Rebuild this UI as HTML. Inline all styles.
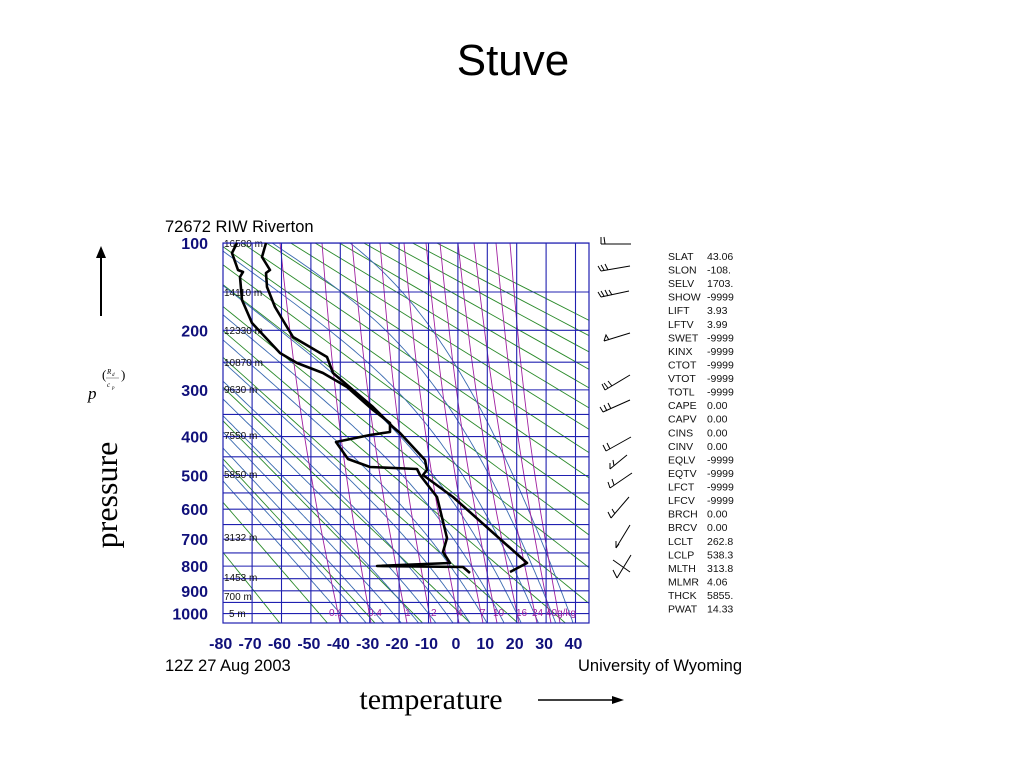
<!DOCTYPE html>
<html><head><meta charset="utf-8"><style>
html,body{margin:0;padding:0;background:#fff;}
body{width:1024px;height:768px;position:relative;overflow:hidden;}
</style></head><body>
<svg id="s" width="1024" height="768" xmlns="http://www.w3.org/2000/svg" style="position:absolute;left:0;top:0">
<text x="513" y="75" text-anchor="middle" font-family="Liberation Sans, sans-serif" font-size="44">Stuve</text>
<line x1="101" y1="316" x2="101" y2="256" stroke="#000" stroke-width="2"/>
<polygon points="101,246 96,258 106,258" fill="#000"/>
<text x="88" y="399" font-family="Liberation Serif, serif" font-style="italic" font-size="17">p</text>
<text x="102" y="379" font-family="Liberation Serif, serif" font-size="13">(</text>
<text x="121" y="379" font-family="Liberation Serif, serif" font-size="13">)</text>
<text x="107" y="374" font-family="Liberation Serif, serif" font-style="italic" font-size="7">R</text><text x="112" y="376" font-family="Liberation Serif, serif" font-style="italic" font-size="5">d</text>
<line x1="106" y1="378" x2="119" y2="378" stroke="#666" stroke-width="0.6"/>
<text x="107" y="387" font-family="Liberation Serif, serif" font-style="italic" font-size="7">c</text><text x="112" y="389" font-family="Liberation Serif, serif" font-style="italic" font-size="5">p</text>
<text transform="translate(117,495) rotate(-90)" text-anchor="middle" font-family="Liberation Serif, serif" font-size="32">pressure</text>
<text x="431" y="709" text-anchor="middle" font-family="Liberation Serif, serif" font-size="30">temperature</text>
<line x1="538" y1="700" x2="614" y2="700" stroke="#000" stroke-width="1.5"/>
<polygon points="624,700 612,696 612,704" fill="#000"/>
<text x="165" y="232" font-family="Liberation Sans, sans-serif" font-size="16.5">72672 RIW Riverton</text>
<text x="165" y="671" font-family="Liberation Sans, sans-serif" font-size="16.5">12Z 27 Aug 2003</text>
<text x="742" y="671" text-anchor="end" font-family="Liberation Sans, sans-serif" font-size="16.5">University of Wyoming</text>
<defs><clipPath id="c"><rect x="223" y="243" width="366" height="380"/></clipPath></defs>
<g id="grid" clip-path="url(#c)"></g>
<g id="lab"></g>
</svg>
<script>
var NS="http://www.w3.org/2000/svg",g=document.getElementById("grid"),lab=document.getElementById("lab"),S=document.getElementById("s");
function el(p,t,a,txt){var e=document.createElementNS(NS,t);for(var k in a)e.setAttribute(k,a[k]);if(txt!=null)e.textContent=txt;p.appendChild(e);return e;}
function X(T){return 222.7+(T+80)*2.94;}
function Y(p){return 243+106.5*(Math.pow(p,0.286)-3.7313);}
function pl(par,pts,c,w){el(par,"polyline",{points:pts.map(function(q){return q[0].toFixed(1)+","+q[1].toFixed(1)}).join(" "),fill:"none",stroke:c,"stroke-width":w,"stroke-linejoin":"round"});}
// dry adiabats
for(var th=210;th<=520;th+=16){var pts=[];for(var p=100;p<=1060;p+=20){pts.push([X(th*Math.pow(p/1000,0.286)-273.15),Y(p)]);}pl(g,pts,"#2a8a2a",0.9);}
// moist adiabats
function es(T){return 6.112*Math.exp(17.67*T/(T+243.5));}
function gm(T,p){var Tk=T+273.15,e=es(T),r=0.622*e/(p-e),L=2.5e6;var num=(287*Tk+L*r)/p;var den=1004+(L*L*r*0.622)/(287*Tk*Tk);return num/den;}
for(var tw=-40;tw<=40;tw+=6){var Tb=tw;for(var q=1000;q<1060;q+=5){Tb+=gm(Tb,q)*5;} var T=Tb,pts=[];
 for(var p=1060;p>=100;p-=5){pts.push([X(T),Y(p)]);T-=gm(T,p)*5;}
 pl(g,pts,"#3a6ab0",0.9);}
// mixing ratio (approx)
var wb=[340,371,407,431,459,483,497,519,537,551,560];
var wt=[280,322,352,380,404,426,440,458,474,496,510];
wb.forEach(function(xb,i){var xt=wt[i],pts=[];for(var k=0;k<=20;k++){var f=k/20,y=243+f*380;var lin=xt+(xb-xt)*f;var cur=-6*Math.sin(Math.PI*f);pts.push([lin+cur,y]);}pl(g,pts,"#a020a0",0.9);});
// grid
for(var T=-80;T<=40;T+=10)el(g,"line",{x1:X(T),y1:243,x2:X(T),y2:623,stroke:"#2020b0","stroke-width":1.1});
[100,150,200,250,300,350,400,450,500,550,600,650,700,750,800,850,900,950,1000].forEach(function(p){el(g,"line",{x1:223,y1:Y(p),x2:589,y2:Y(p),stroke:"#2020b0","stroke-width":1.1});});
el(S,"rect",{x:223,y:243,width:366,height:380,fill:"none",stroke:"#2020b0","stroke-width":1.2});
[[100,"100"],[200,"200"],[300,"300"],[400,"400"],[500,"500"],[600,"600"],[700,"700"],[800,"800"],[900,"900"],[1000,"1000"]].forEach(function(a){el(lab,"text",{x:208,y:Y(a[0])+6,"text-anchor":"end","font-family":"Liberation Sans, sans-serif","font-size":16,"font-weight":"bold",fill:"#10107a"},a[1]);});
for(var T=-80;T<=40;T+=10)el(lab,"text",{x:X(T)-2,y:649,"text-anchor":"middle","font-family":"Liberation Sans, sans-serif","font-size":16,"font-weight":"bold",fill:"#10107a"},""+T);
[[243,"16580 m"],[292,"14110 m"],[330,"12330 m"],[362,"10870 m"],[389,"9630 m"],[435,"7550 m"],[474,"5850 m"],[537,"3132 m"],[577,"1453 m"],[596,"700 m"],[613,"5 m"]].forEach(function(a){el(lab,"text",{x:a[1]=="5 m"?229:224,y:a[0]+4,"font-family":"Liberation Sans, sans-serif","font-size":10,fill:"#111"},a[1]);});
var wl=[[329,"0.1"],[368,"0.4"],[405,"1"],[431,"2"],[457,"4"],[480,"7"],[493,"10"],[516,"16"],[532,"24"],[546,"40g/kg"]];
wl.forEach(function(a){el(lab,"text",{x:a[0],y:616,"font-family":"Liberation Sans, sans-serif","font-size":10,fill:"#a020a0"},a[1]);});
// soundings
var Tl=[[266,243],[262,257],[270,270],[266,273],[267,287],[275,307],[293,337],[327,357],[333,373],[373,407],[393,427],[400,433],[425,460],[427,470],[423,475],[453,497],[527,563],[510,572]];
var Dl=[[237,243],[232,253],[238,270],[243,272],[240,277],[242,300],[252,323],[280,353],[297,363],[323,373],[347,387],[373,410],[390,423],[390,432],[370,435],[336,442],[348,459],[370,467],[417,469],[420,475],[437,497],[447,538],[443,552],[450,563],[377,566],[463,567],[470,573]];
pl(S,Tl,"#000",2.6);pl(S,Dl,"#000",2.6);
// wind barbs
var B=["M601,244 L631,244 M601,244 L601,237 M605,244 L604,237","M601,271 L630,266 M601,271 L598,266 M604,270 L601,265 M608,270 L605,264","M601,297 L629,291 M601,297 L598,292 M604,296 L601,291 M608,296 L605,290 M612,295 L609,290","M604,341 L630,333 M604,341 L606,335 L609,340","M605,390 L630,375 M605,390 L602,384 M608,388 L604,383 M612,386 L608,381","M603,412 L630,400 M603,412 L600,407 M607,411 L604,405 M611,409 L608,403","M606,451 L631,437 M606,451 L603,445 M610,449 L607,443","M610,469 L627,455 M610,469 L610,463 M614,466 L613,460","M610,488 L632,473 M610,488 L608,482 M614,485 L612,479","M611,518 L629,497 M611,518 L608,512 M615,514 L612,509","M616,548 L630,525 M616,548 L619,544 M616,548 L616,541","M617,578 L631,555 M613,560 L630,572 M617,578 L613,570"];
B.forEach(function(d){el(S,"path",{d:d,stroke:"#000","stroke-width":1,fill:"none"});});
var rows=[["SLAT","43.06"],["SLON","-108."],["SELV","1703."],["SHOW","-9999"],["LIFT","3.93"],["LFTV","3.99"],["SWET","-9999"],["KINX","-9999"],["CTOT","-9999"],["VTOT","-9999"],["TOTL","-9999"],["CAPE","0.00"],["CAPV","0.00"],["CINS","0.00"],["CINV","0.00"],["EQLV","-9999"],["EQTV","-9999"],["LFCT","-9999"],["LFCV","-9999"],["BRCH","0.00"],["BRCV","0.00"],["LCLT","262.8"],["LCLP","538.3"],["MLTH","313.8"],["MLMR","4.06"],["THCK","5855."],["PWAT","14.33"]];
rows.forEach(function(r,i){var y=260+i*13.56;el(S,"text",{x:668,y:y,"font-family":"Liberation Sans, sans-serif","font-size":10.5,fill:"#111"},r[0]);el(S,"text",{x:707,y:y,"font-family":"Liberation Sans, sans-serif","font-size":10.5,fill:"#111"},r[1]);});
</script>
</body></html>
